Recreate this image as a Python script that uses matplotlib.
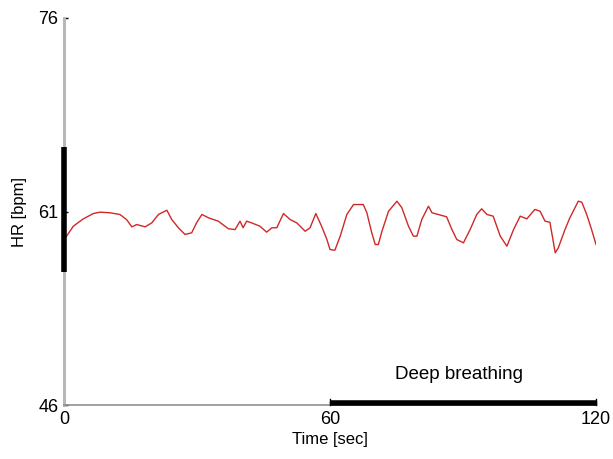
import numpy as np
import matplotlib.pyplot as plt

plt.rcParams["font.family"] = ["Liberation Sans", "DejaVu Sans"]
plt.rcParams["font.size"] = 12

# heart rate trace (sec, bpm)
t = [0.0, 2.1, 4.35, 6.6, 8.1, 10.4, 12.6, 14.1, 15.3, 16.4, 18.3, 19.8,
     21.3, 23.2, 24.3, 25.8, 27.3, 28.8, 29.9, 31.1, 32.6, 34.8, 37.1, 38.6,
     39.7, 40.4, 41.2, 42.3, 44.2, 45.7, 46.9, 48.0, 49.5, 51.0, 52.5, 54.4,
     55.5, 56.8, 58.1, 59.3, 60.0, 61.1, 62.3, 63.8, 65.3, 67.5, 68.3, 69.4,
     70.2, 70.9, 71.7, 73.2, 75.1, 76.2, 77.7, 78.8, 79.6, 80.7, 82.2, 83.0,
     84.4, 86.3, 87.5, 88.6, 90.1, 91.6, 93.1, 94.2, 95.4, 96.8, 98.4, 99.9,
     101.4, 102.9, 104.4, 106.2, 107.4, 108.5, 109.6, 110.8, 111.5, 113.0,
     114.1, 116.0, 116.8, 117.9, 119.0, 120.0]
hr = [58.8, 59.86, 60.43, 60.84, 60.95, 60.9, 60.77, 60.38, 59.81, 59.99,
      59.81, 60.12, 60.77, 61.1, 60.38, 59.74, 59.22, 59.35, 60.12, 60.77,
      60.51, 60.25, 59.66, 59.6, 60.25, 59.74, 60.25, 60.12, 59.86, 59.4,
      59.74, 59.74, 60.84, 60.38, 60.12, 59.47, 59.74, 60.84, 59.86, 58.83,
      58.05, 58.0, 59.09, 60.77, 61.54, 61.54, 60.92, 59.37, 58.44, 58.44,
      59.45, 61.02, 61.8, 61.29, 59.86, 59.09, 59.09, 60.38, 61.41, 60.9,
      60.77, 60.59, 59.6, 58.83, 58.57, 59.6, 60.77, 61.21, 60.77, 60.64,
      59.09, 58.31, 59.6, 60.64, 60.43, 61.16, 61.02, 60.25, 60.17, 57.8,
      58.19, 59.6, 60.51, 61.8, 61.72, 60.77, 59.6, 58.44]

hr_range = [56.3, 66.0]      # bar on the HR axis
deep_breath = [60, 120]      # deep breathing interval

xticks = [0, 60, 120]
yticks = [46, 61, 76]

fig = plt.figure(figsize=(6.13, 4.59), dpi=100)
ax = fig.add_axes([0.1044, 0.1176, 0.8679, 0.8432])

ax.plot(t, hr, color="#d02828", lw=1.0)

ax.set_xlim(0, 120)
ax.set_ylim(46, 76)
ax.set_xticks(xticks)
ax.set_yticks(yticks)
ax.tick_params(direction="in", length=3, width=1, color="black", pad=4,
               labelsize=13)

for s in ["top", "right"]:
    ax.spines[s].set_visible(False)
ax.spines["left"].set_color("#b8b8b8")
ax.spines["left"].set_linewidth(2.2)
ax.spines["bottom"].set_color("#909090")
ax.spines["bottom"].set_linewidth(1.2)

# thick bars on the axes
ax.plot([0, 0], hr_range, color="black", lw=4, solid_capstyle="butt",
        clip_on=False, zorder=5)
ax.plot(deep_breath, [46.15, 46.15], color="black", lw=4,
        solid_capstyle="butt", clip_on=False, zorder=5)
ax.plot([deep_breath[0]] * 2, [46, 46.5], color="black", lw=1, clip_on=False, zorder=5)
ax.plot([deep_breath[1]] * 2, [46, 46.5], color="black", lw=1, clip_on=False, zorder=5)

ax.text(89, 48.4, "Deep breathing", ha="center", va="center", fontsize=13.5)

ax.set_xlabel("Time [sec]", labelpad=3)
ax.set_ylabel("HR [bpm]", labelpad=8)

fig.savefig("out.png", dpi=100)
